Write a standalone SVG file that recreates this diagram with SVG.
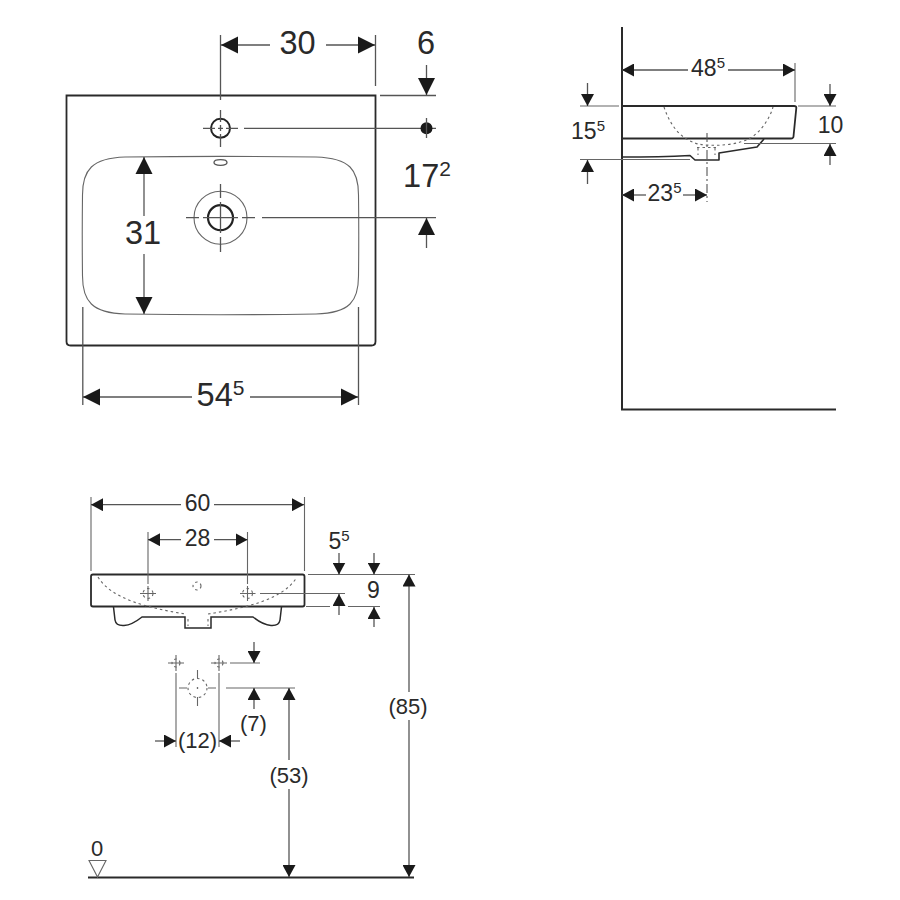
<svg xmlns="http://www.w3.org/2000/svg" width="900" height="900" viewBox="0 0 900 900">
<defs>
<marker id="big" markerUnits="userSpaceOnUse" markerWidth="18" markerHeight="18" refX="17" refY="9" orient="auto-start-reverse"><path d="M0 0.5L17 9L0 17.5Z" fill="#1a1a1a"/></marker>
<marker id="sm" markerUnits="userSpaceOnUse" markerWidth="13" markerHeight="13" refX="12" refY="6.5" orient="auto-start-reverse"><path d="M0 0L12 6.500L0 13Z" fill="#1a1a1a"/></marker>
</defs>
<style>
text{font-family:"Liberation Sans",Arial,sans-serif;fill:#2a2a2a;text-anchor:middle}
.l{font-size:32.500px}.m{font-size:23px}.s{font-size:22px}
.e{font-size:21px}.f{font-size:15px}
.o{fill:none;stroke:#2a2a2a;stroke-width:1.800}
.t{fill:none;stroke:#666;stroke-width:1.100}
.d{fill:none;stroke:#555;stroke-width:1.300}
.b{marker-end:url(#big)}.bs{marker-start:url(#big)}
.a{marker-end:url(#sm)}.as{marker-start:url(#sm)}
.p{fill:none;stroke:#666;stroke-width:1.100;stroke-dasharray:2.500 3}
</style>
<rect width="900" height="900" fill="#fff"/>

<g id="top-view">
<path class="o" d="M66.500 95.500H375.500V341.500Q375.500 345.500 371.500 345.500H70.500Q66.500 345.500 66.500 341.500Z"/>
<path class="t" d="M125 157Q220 155.800 316 157C350 158 358.500 170 358.500 195Q359 235 358.500 276C358.500 301 350 313 316 314Q220 315.500 125 314C92 313 82.500 301 82.500 276Q82 235 82.500 195C82.500 170 92 158 125 157Z"/>
<ellipse cx="220.500" cy="162.500" rx="6.500" ry="2.800" class="d"/>
<circle cx="220.500" cy="128.300" r="9.500" fill="none" stroke="#222" stroke-width="2"/>
<path class="d" d="M220.500 110V122M220.500 125V131M220.500 134V147M203 128.300H215M218 128.300H223M226 128.300H238"/>
<circle cx="220.500" cy="217.700" r="26.500" class="t"/>
<circle cx="220.500" cy="217.700" r="12.500" fill="none" stroke="#222" stroke-width="2.200"/>
<path class="d" d="M220.500 184V198M220.500 202V233M220.500 237V252M186 217.700H199M203 217.700H238M242 217.700H255"/>
</g>

<g id="top-dimensions">
<path class="d" d="M220.500 35V100M375.500 35V86M380 95.500H436M244 128.300H436M262 217.700H436M82.800 307V405M358.500 307V405"/>
<path class="d bs" d="M221 45H270"/><path class="d b" d="M326 45H375"/>
<path class="d b" d="M426.500 65V95"/><path class="d b" d="M426.500 248V218"/>
<path class="d bs" d="M144 157V216"/><path class="d b" d="M144 254V314"/>
<path class="d bs" d="M83 397H192"/><path class="d b" d="M250 397H358"/>
<circle cx="426.500" cy="128.300" r="6" fill="#1a1a1a"/>
<path class="d" d="M426.500 118V138"/>
<text class="l" x="297.500" y="53.500">30</text>
<text class="l" x="426" y="53.500">6</text>
<text class="l" x="427" y="186.500">17<tspan class="e" dy="-11">2</tspan></text>
<text class="l" x="143" y="243.500">31</text>
<text class="l" x="220.500" y="405.500">54<tspan class="e" dy="-11">5</tspan></text>
</g>

<g id="side-view">
<path d="M622 27V409.500H836" fill="none" stroke="#2a2a2a" stroke-width="2"/>
<path class="o" d="M622 106H794Q796.500 106 796.300 108L793.500 136.500Q793.300 138.500 791 138.500H622"/>
<path fill="none" stroke="#2a2a2a" stroke-width="1.600" stroke-linejoin="round" d="M622 157Q660 157 690 155.500L695 160H719V153L757 147L764 139"/>
<path class="p" d="M664 107C670 125 680 139 698 144C715 147 740 145 752 137C762 130 770 118 773 107"/>
<path class="p" d="M697 147.500H717M698 148V155M715 148V155"/>
<path stroke="#555" stroke-width="1.100" stroke-dasharray="9 3 2 3" fill="none" d="M707 133V202"/>
</g>

<g id="side-dimensions">
<path class="t" d="M580 106H619M798 106H836M744 143.500H836M580 159.500H690M795 63V102"/>
<path class="d as" d="M622 70H688"/><path class="d a" d="M728 70H795"/>
<path class="d as" d="M622 195H646"/><path class="d a" d="M683 195H707"/>
<path class="d a" d="M587.500 83V106"/><path class="d a" d="M587.500 184V160"/>
<path class="d a" d="M830 84V106"/><path class="d a" d="M830 165V144"/>
<text class="m" x="708" y="75.500">48<tspan class="f" dy="-8">5</tspan></text>
<text class="m" x="588" y="138.500">15<tspan class="f" dy="-8">5</tspan></text>
<text class="m" x="830.500" y="133">10</text>
<text class="m" x="664.500" y="200.500">23<tspan class="f" dy="-8">5</tspan></text>
</g>

<g id="front-view">
<path class="o" d="M93 574.500H302.500Q304.500 574.500 304.500 576.500V604.500Q304.500 606.500 302.500 606.500H93Q91 606.500 91 604.500V576.500Q91 574.500 93 574.500Z"/>
<path fill="none" stroke="#2a2a2a" stroke-width="1.500" d="M113.500 607L115 620Q116 626 124 625.500Q132 625 142 617H185V628H211V617H253Q263 625 271 625.500Q279 626 280 620L281.500 607"/>
<path class="p" d="M98 577C112 600 150 608 185 614M208 614C245 608 283 600 297 577"/>
<path class="p" d="M188 619V626M208 619V626"/>
<circle cx="197" cy="586" r="4" class="p"/>
<g id="hole-l"><circle cx="148" cy="593.500" r="5" class="p"/><path class="t" d="M140 593.500H156M148 586V601"/></g>
<g id="hole-r"><circle cx="247.500" cy="593.500" r="5" class="p"/><path class="t" d="M240 593.500H255.500M247.500 586V601"/></g>
</g>

<g id="front-dimensions">
<path class="t" d="M91 497V571M304.500 497V571M148 532V584M247.500 532V584M308 574.500H415M260 593.500H345M306 606.500H330M348 606.500H380"/>
<path class="d as" d="M91 504.700H181"/><path class="d a" d="M214 504.700H304"/>
<path class="d as" d="M148 539.700H181"/><path class="d a" d="M214 539.700H247.500"/>
<path class="d a" d="M339 553V574.500"/><path class="d a" d="M339 615V594"/>
<path class="d a" d="M374 553V574.500"/><path class="d a" d="M374 627V607"/>
<text class="m" x="197.500" y="511">60</text>
<text class="m" x="197.500" y="545.500">28</text>
<text class="m" x="339" y="548.500">5<tspan class="f" dy="-8">5</tspan></text>
<text class="m" x="373.500" y="597.500">9</text>
</g>

<g id="wall-fixings">
<g id="fix-l"><circle cx="176" cy="663" r="4" class="p"/><path class="t" d="M168 663H184M176 655V671"/></g>
<g id="fix-r"><circle cx="219" cy="663" r="4" class="p"/><path class="t" d="M211 663H227M219 655V671"/></g>
<circle cx="197.500" cy="688" r="9.500" class="p"/>
<circle cx="197.500" cy="688" r="0.800" fill="#222"/>
<path class="t" d="M179 688H187M208 688H216M197.500 670V678M197.500 697V706"/>
</g>

<g id="lower-dimensions">
<path class="t" d="M176 673V747M219 673V747M230 663H260M226 688H295"/>
<path d="M88 877.500H414" fill="none" stroke="#2a2a2a" stroke-width="2"/>
<path class="d a" d="M155 741H176"/><path class="d a" d="M240 741H219"/>
<path class="d a" d="M254 642V663"/><path class="d a" d="M254 709V688"/>
<path class="d a" d="M289 760V688"/><path class="d a" d="M289 789V877"/>
<path class="d a" d="M409 692V574.500"/><path class="d a" d="M409 720V877"/>
<path class="t" d="M89 860.500H106L97.500 877Z"/>
<text class="s" x="197.500" y="747.500">(12)</text>
<text class="s" x="253.500" y="730.500">(7)</text>
<text class="s" x="289" y="782.500">(53)</text>
<text class="s" x="408" y="713.500">(85)</text>
<text class="s" x="97" y="855.500">0</text>
</g>
</svg>
